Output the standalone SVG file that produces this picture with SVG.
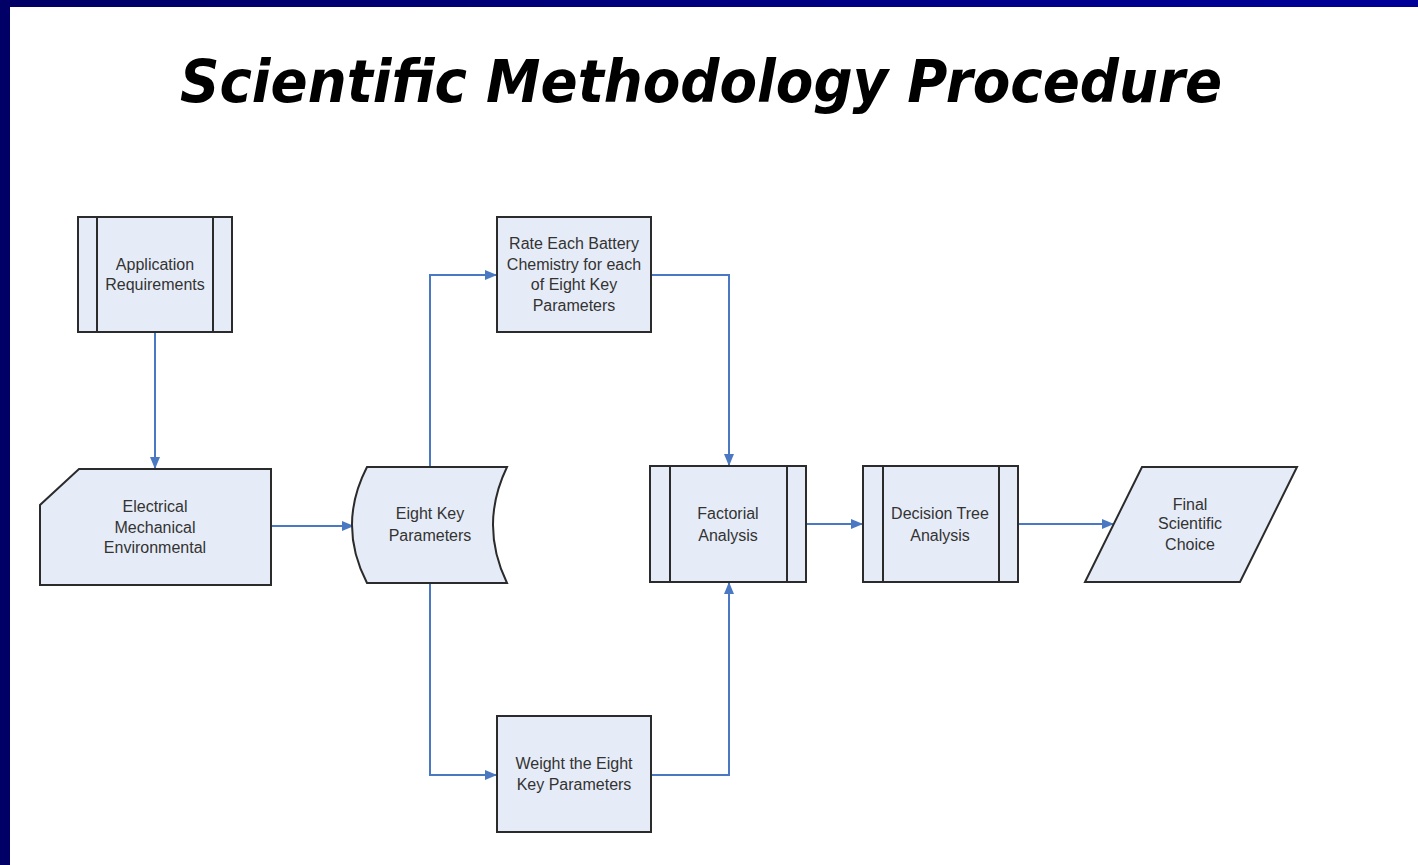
<svg xmlns="http://www.w3.org/2000/svg" width="1418" height="865" viewBox="0 0 1418 865">
<defs>
<linearGradient id="topbar" x1="0" y1="0" x2="1" y2="0">
<stop offset="0" stop-color="#000066"/>
<stop offset="1" stop-color="#000099"/>
</linearGradient>
<marker id="arr" markerWidth="12" markerHeight="10" refX="11" refY="5" orient="auto" markerUnits="userSpaceOnUse">
<path d="M0,0 L12,5 L0,10 Z" fill="#4A78C2"/>
</marker>
<style>
.shape{fill:#E6ECF7;stroke:#2b2b2b;stroke-width:2}
.inner{stroke:#2b2b2b;stroke-width:2;fill:none}
.lbl{font-family:"Liberation Sans",Arial,sans-serif;font-size:16px;fill:#333;text-anchor:middle}
.conn{fill:none;stroke:#4A78C2;stroke-width:2}
</style>
</defs>
<rect x="0" y="0" width="1418" height="865" fill="#ffffff"/>
<rect x="0" y="0" width="1418" height="7" fill="url(#topbar)"/>
<rect x="0" y="0" width="10" height="865" fill="#000066"/>
<text x="180" y="102" textLength="1042" lengthAdjust="spacingAndGlyphs" font-family="'DejaVu Sans',Verdana,sans-serif" font-weight="bold" font-style="italic" font-size="58" fill="#000">Scientific Methodology Procedure</text>

<g id="connectors">
<path class="conn" d="M155,333 L155,468" marker-end="url(#arr)"/>
<path class="conn" d="M272,526 L353,526" marker-end="url(#arr)"/>
<path class="conn" d="M430,466 L430,275 L496,275" marker-end="url(#arr)"/>
<path class="conn" d="M652,275 L729,275 L729,465" marker-end="url(#arr)"/>
<path class="conn" d="M430,584 L430,775 L496,775" marker-end="url(#arr)"/>
<path class="conn" d="M652,775 L729,775 L729,583" marker-end="url(#arr)"/>
<path class="conn" d="M807,524 L862,524" marker-end="url(#arr)"/>
<path class="conn" d="M1019,524 L1113,524" marker-end="url(#arr)"/>
</g>

<g id="app-req">
<rect class="shape" x="78" y="217" width="154" height="115"/>
<line class="inner" x1="97" y1="217" x2="97" y2="332"/>
<line class="inner" x1="213" y1="217" x2="213" y2="332"/>
<text class="lbl" x="155" y="270">Application</text>
<text class="lbl" x="155" y="290">Requirements</text>
</g>

<g id="elec-mech-env">
<path class="shape" d="M79,469 L271,469 L271,585 L40,585 L40,505 Z"/>
<text class="lbl" x="155" y="512">Electrical</text>
<text class="lbl" x="155" y="533">Mechanical</text>
<text class="lbl" x="155" y="553">Environmental</text>
</g>

<g id="eight-key">
<path class="shape" d="M367,467 L507,467 Q479,525 507,583 L367,583 Q337,525 367,467 Z"/>
<text class="lbl" x="430" y="519">Eight Key</text>
<text class="lbl" x="430" y="541">Parameters</text>
</g>

<g id="rate-each">
<rect class="shape" x="497" y="217" width="154" height="115"/>
<text class="lbl" x="574" y="249">Rate Each Battery</text>
<text class="lbl" x="574" y="270">Chemistry for each</text>
<text class="lbl" x="574" y="290">of Eight Key</text>
<text class="lbl" x="574" y="311">Parameters</text>
</g>

<g id="factorial">
<rect class="shape" x="650" y="466" width="156" height="116"/>
<line class="inner" x1="670" y1="466" x2="670" y2="582"/>
<line class="inner" x1="787" y1="466" x2="787" y2="582"/>
<text class="lbl" x="728" y="519">Factorial</text>
<text class="lbl" x="728" y="541">Analysis</text>
</g>

<g id="decision-tree">
<rect class="shape" x="863" y="466" width="155" height="116"/>
<line class="inner" x1="883" y1="466" x2="883" y2="582"/>
<line class="inner" x1="999" y1="466" x2="999" y2="582"/>
<text class="lbl" x="940" y="519">Decision Tree</text>
<text class="lbl" x="940" y="541">Analysis</text>
</g>

<g id="final-choice">
<path class="shape" d="M1142,467 L1297,467 L1240,582 L1085,582 Z"/>
<text class="lbl" x="1190" y="510">Final</text>
<text class="lbl" x="1190" y="529">Scientific</text>
<text class="lbl" x="1190" y="550">Choice</text>
</g>

<g id="weight">
<rect class="shape" x="497" y="716" width="154" height="116"/>
<text class="lbl" x="574" y="769">Weight the Eight</text>
<text class="lbl" x="574" y="790">Key Parameters</text>
</g>
</svg>
